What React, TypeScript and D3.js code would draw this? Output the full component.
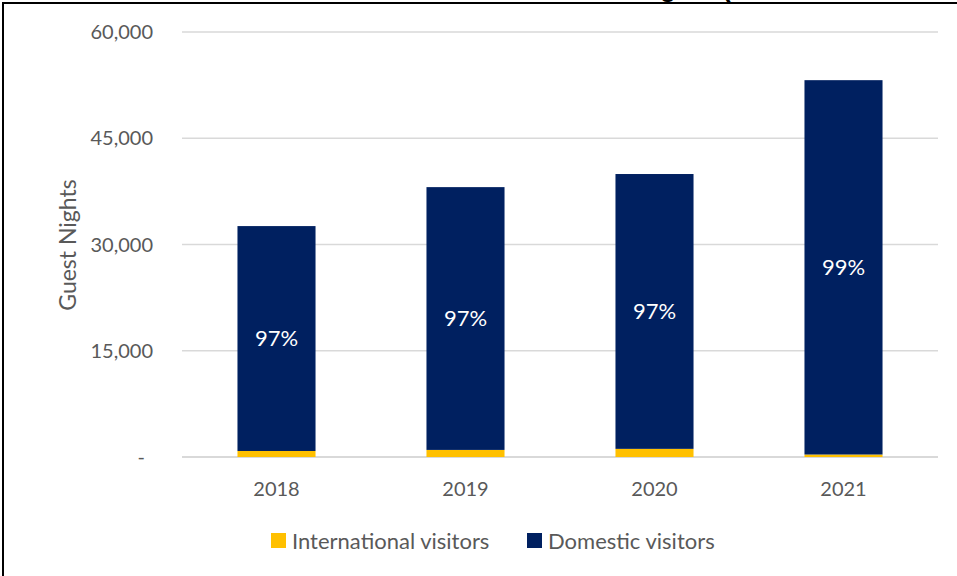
import React from "react";
import * as d3 from "d3";

const years = ["2018", "2019", "2020", "2021"];
const international = [850, 1000, 1150, 350];
const domestic = [31750, 37100, 38800, 52850];
const yTicks = [0, 15000, 30000, 45000, 60000];
const seriesNames = ["International visitors", "Domestic visitors"];
const seriesColors = ["#FFC000", "#002060"];
const titleText = "Guest Nights (Commercial Accommodation)";

const W = 957;
const H = 576;
const FONT = "Lato, 'Open Sans', sans-serif";

export default function App() {
  const x = d3.scaleBand<string>().domain(years).range([182, 938]).paddingInner(0.587).paddingOuter(0.2935);
  const y = d3.scaleLinear().domain([0, 60000]).range([457, 32]);

  const rows = years.map((yr, i) => ({ year: yr, international: international[i], domestic: domestic[i] }));
  const stack = d3.stack<any>().keys(["international", "domestic"])(rows);
  const fmt = d3.format(",");

  return (
    <svg width={W} height={H} style={{ position: "absolute", left: 0, top: 0, background: "#fff" }}>
      <rect x={0} y={0} width={W} height={H} fill="#fff" />
      <text x={553} y={-3.5} fontFamily="'Liberation Sans', Arial, sans-serif" fontWeight="bold" fontSize={26} fill="#000">
        {titleText}
      </text>
      {yTicks.map((t) => (
        <g key={t}>
          <line x1={182} x2={938} y1={y(t)} y2={y(t)} stroke="#d9d9d9" strokeWidth={t === 0 ? 2 : 1.3} />
          <text
            x={t === 0 ? 145 : 153}
            y={y(t)}
            dy="0.35em"
            textAnchor="end"
            fontFamily={FONT}
            fontSize={20}
            fill="#595959"
          >
            {t === 0 ? "-" : fmt(t)}
          </text>
        </g>
      ))}
      <text
        transform={`translate(68,245) rotate(-90)`}
        textAnchor="middle"
        dy="0.35em"
        fontFamily={FONT}
        fontSize={23}
        fill="#595959"
      >
        Guest Nights
      </text>
      {stack.map((layer, si) => (
        <g key={si} fill={seriesColors[si]}>
          {layer.map((d, i) => (
            <rect
              key={i}
              x={x(years[i])}
              y={y(d[1])}
              width={x.bandwidth()}
              height={y(d[0]) - y(d[1])}
            />
          ))}
        </g>
      ))}
      {stack[1].map((d, i) => {
        const total = international[i] + domestic[i];
        const pct = Math.round((domestic[i] / total) * 100);
        return (
          <text
            key={i}
            x={(x(years[i]) as number) + x.bandwidth() / 2}
            y={(y(d[0]) + y(d[1])) / 2}
            dy="0.35em"
            textAnchor="middle"
            fontFamily={FONT}
            fontSize={22}
            fill="#fff"
          >
            {pct + "%"}
          </text>
        );
      })}
      {years.map((yr) => (
        <text
          key={yr}
          x={(x(yr) as number) + x.bandwidth() / 2}
          y={489}
          dy="0.35em"
          textAnchor="middle"
          fontFamily={FONT}
          fontSize={20}
          fill="#595959"
        >
          {yr}
        </text>
      ))}
      {seriesNames.map((name, i) => {
        const lx = i === 0 ? 271 : 527;
        return (
          <g key={name}>
            <rect x={lx} y={533} width={15} height={15} fill={seriesColors[i]} />
            <text x={lx + 21} y={541} dy="0.35em" fontFamily={FONT} fontSize={22} fill="#595959">
              {name}
            </text>
          </g>
        );
      })}
      <line x1={3} x2={957} y1={3} y2={3} stroke="#000" strokeWidth={2} />
      <line x1={3} x2={3} y1={2} y2={576} stroke="#000" strokeWidth={2} />
    </svg>
  );
}
